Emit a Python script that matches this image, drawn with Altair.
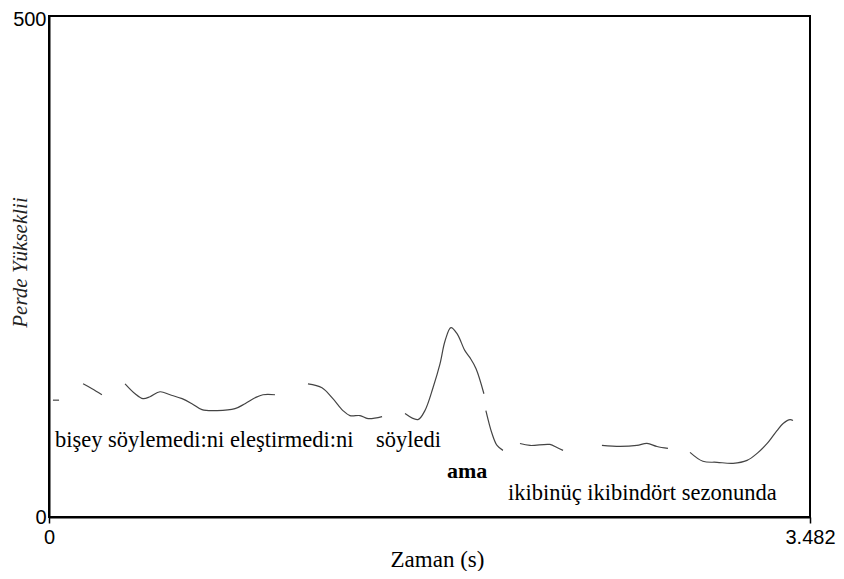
import altair as alt
import pandas as pd

# Pitch contour segments (time in s, pitch in Hz)
seg_ids = [1, 1,
           2, 2, 2,
           3, 3, 3, 3, 3, 3, 3, 3, 3, 3, 3, 3, 3, 3, 3,
           4, 4, 4, 4, 4, 4, 4, 4,
           5, 5, 5, 5, 5, 5, 5, 5, 5, 5, 5, 5,
           6, 6, 6, 6,
           7, 7, 7, 7, 7,
           8, 8, 8, 8, 8, 8,
           9, 9, 9, 9, 9, 9, 9, 9, 9, 9, 9]
times = [0.018, 0.046,
         0.156, 0.197, 0.242,
         0.348, 0.394, 0.430, 0.462, 0.508, 0.554, 0.609, 0.654, 0.700, 0.769, 0.851, 0.897, 0.943, 0.979, 1.034,
         1.185, 1.249, 1.299, 1.345, 1.377, 1.423, 1.460, 1.524,
         1.629, 1.688, 1.720, 1.757, 1.789, 1.812, 1.839, 1.867, 1.903, 1.926, 1.954, 1.990,
         1.999, 2.027, 2.050, 2.077,
         2.155, 2.201, 2.292, 2.324, 2.352,
         2.530, 2.613, 2.690, 2.736, 2.782, 2.832,
         2.933, 2.992, 3.057, 3.130, 3.194, 3.240, 3.286, 3.331, 3.359, 3.391, 3.404]
pitch = [116.6, 116.6,
         132.9, 128.0, 122.0,
         132.9, 123.0, 118.1, 120.0, 125.0, 122.0, 118.1, 113.1, 107.1, 106.2, 108.1, 113.1, 119.0, 122.0, 122.0,
         132.9, 129.0, 118.1, 106.2, 101.2, 101.2, 98.2, 100.2,
         103.2, 97.2, 106.2, 129.0, 152.8, 175.6, 189.0, 183.0, 166.0, 159.0, 148.0, 123.0,
         106.2, 83.3, 71.4, 66.5,
         73.4, 71.4, 72.4, 69.4, 66.5,
         71.4, 70.4, 71.4, 73.4, 70.4, 68.5,
         64.5, 55.6, 54.6, 53.6, 56.5, 63.5, 73.4, 86.3, 93.3, 97.2, 96.2]

# Text annotations
ann_text = ["bişey söylemedi:ni eleştirmedi:ni", "söyledi", "ikibinüç ikibindört sezonunda"]
ann_time = [0.027, 1.496, 2.100]
ann_pitch = [77.0, 77.0, 24.0]
bold_text = ["ama"]
bold_time = [1.821]
bold_pitch = [46.0]

x_ticks = [0, 3.482]
y_ticks = [0, 500]

df = pd.DataFrame({"seg": seg_ids, "t": times, "f0": pitch})
ann = pd.DataFrame({"label": ann_text, "t": ann_time, "f0": ann_pitch})
ann_b = pd.DataFrame({"label": bold_text, "t": bold_time, "f0": bold_pitch})

serif = "Liberation Serif, Times New Roman, serif"
sans = "Liberation Sans, Arial, sans-serif"

xscale = alt.Scale(domain=[0, 3.482], nice=False, zero=False)
yscale = alt.Scale(domain=[0, 500], nice=False)

x_axis = alt.Axis(values=x_ticks, format=".4~g", title="Zaman (s)", grid=False,
                  domainColor="black", domainWidth=2, tickColor="black", tickWidth=1.5,
                  tickSize=6, labelPadding=4, labelFont=sans,
                  labelFontSize=20, labelColor="black", labelFlush=False,
                  titleFont=serif, titleFontSize=23,
                  titleFontWeight="normal", titleColor="black",
                  titleX=388, titleY=42, titleBaseline="middle", titleAlign="center")
y_axis = alt.Axis(values=y_ticks, title="Perde Yükseklii", grid=False,
                  domainColor="black", domainWidth=2, ticks=False, labelPadding=3,
                  labelFont=sans, labelFontSize=20,
                  labelColor="black", labelFlush=False, labelBaseline="middle",
                  labelOffset={"condition": {"test": "datum.value === 500", "value": 3}, "value": 0},
                  titleFont=serif, titleFontSize=21,
                  titleFontStyle="italic", titleFontWeight="normal", titleColor="#222",
                  titleAngle=270, titleX=-29, titleY=246, titleAlign="center",
                  titleBaseline="middle")

lines = alt.Chart(df).mark_line(color="#444", strokeWidth=1.2, interpolate="catmull-rom").encode(
    x=alt.X("t:Q", scale=xscale, axis=x_axis),
    y=alt.Y("f0:Q", scale=yscale, axis=y_axis),
    detail="seg:N",
)

texts = alt.Chart(ann).mark_text(align="left", baseline="middle", font=serif,
                                 fontSize=22.5, color="black").encode(
    x=alt.X("t:Q", scale=xscale),
    y=alt.Y("f0:Q", scale=yscale),
    text="label:N",
)
texts_b = alt.Chart(ann_b).mark_text(align="left", baseline="middle", font=serif,
                                     fontSize=22, fontWeight="bold", color="black").encode(
    x=alt.X("t:Q", scale=xscale),
    y=alt.Y("f0:Q", scale=yscale),
    text="label:N",
)

chart = (lines + texts + texts_b).properties(
    width=761, height=501,
    autosize=alt.AutoSizeParams(type="none"),
    padding={"left": 41, "top": 8, "right": 26, "bottom": 54},
    background="white",
).configure_view(stroke="black", strokeWidth=2)

chart.save("out.html", embed_options={"renderer": "svg", "actions": False})
